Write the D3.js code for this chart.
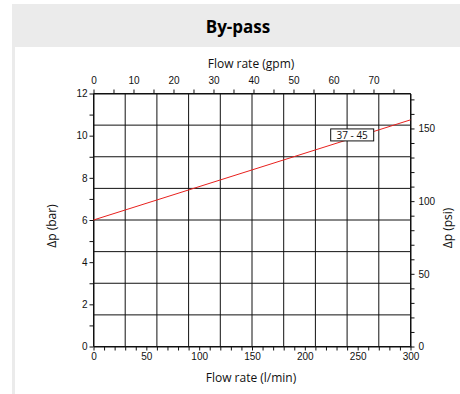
<!DOCTYPE html>
<html>
<head>
<meta charset="utf-8">
<script src="https://cdn.jsdelivr.net/npm/d3@7"></script>
<style>
  body { margin: 0; background: #fff; }
  svg { display: block; }
</style>
</head>
<body>
<script>
// chart data
const flowLmin = [0, 300];
const dpBar = [6, 10.75];
const curveLabel = "37 - 45";
const gridFlow = [0, 30, 60, 90, 120, 150, 180, 210, 240, 270, 300];
const gridBar = [0, 1.5, 3, 4.5, 6, 7.5, 9, 10.5, 12];
const barTicks = [0, 2, 4, 6, 8, 10, 12];
const psiTicks = [0, 50, 100, 150];
const gpmTicks = [0, 10, 20, 30, 40, 50, 60, 70];

const LMIN_PER_GPM = 3.78541;
const PSI_PER_BAR = 14.5038;

const width = 460, height = 394;
const svg = d3.select("body").append("svg").attr("width", width).attr("height", height);

// panel background
svg.append("rect").attr("x", 12).attr("y", 4).attr("width", 448).attr("height", 43).attr("fill", "#ebebeb");
svg.append("rect").attr("x", 12).attr("y", 47).attr("width", 3).attr("height", 347).attr("fill", "#ebebeb");
svg.append("text").attr("x", 238).attr("y", 33).attr("text-anchor", "middle")
    .style("font-family", "Open Sans").style("font-weight", "bold").style("font-size", "17px")
    .text("By-pass");

const x = d3.scaleLinear().domain([0, 300]).range([93.5, 410.5]);
const y = d3.scaleLinear().domain([0, 12]).range([346.5, 93.5]);
const xg = d3.scaleLinear().domain([0, 300 / LMIN_PER_GPM]).range(x.range());
const yp = d3.scaleLinear().domain([0, 12 * PSI_PER_BAR]).range(y.range());

const g = svg.append("g");

// grid
g.selectAll(".vg").data(gridFlow).enter().append("line")
    .attr("x1", d => x(d)).attr("x2", d => x(d)).attr("y1", y(0)).attr("y2", y(12))
    .attr("stroke", "#111").attr("stroke-width", 1);
g.selectAll(".hg").data(gridBar).enter().append("line")
    .attr("x1", x(0)).attr("x2", x(300)).attr("y1", d => y(d)).attr("y2", d => y(d))
    .attr("stroke", "#111").attr("stroke-width", 1);

function styleAxis(sel) {
    sel.selectAll("path").attr("stroke", "#111");
    sel.selectAll("line").attr("stroke", "#111");
    sel.selectAll("text").style("font-family", "Liberation Sans, Arial").style("font-size", "10px").attr("fill", "#111");
}

// bottom axis: l/min
const axBottom = g.append("g").attr("transform", `translate(0,${y(0)})`)
    .call(d3.axisBottom(x).tickValues(d3.range(0, 301, 10)).tickSize(4).tickSizeOuter(0)
        .tickFormat(d => d % 50 === 0 ? d : ""));
axBottom.call(styleAxis);
axBottom.selectAll("text").attr("dy", "0.75em").attr("y", 6);

// top axis: gpm
const axTop = g.append("g").attr("transform", `translate(0,${y(12)})`)
    .call(d3.axisTop(xg).tickValues(d3.range(0, 80, 5)).tickSize(4).tickSizeOuter(0)
        .tickFormat(d => gpmTicks.includes(d) ? d : ""));
axTop.call(styleAxis);
axTop.selectAll("text").attr("y", -10);

// left axis: bar
const axLeft = g.append("g").attr("transform", `translate(${x(0)},0)`)
    .call(d3.axisLeft(y).tickValues(d3.range(0, 13, 1)).tickSize(4).tickSizeOuter(0)
        .tickFormat(d => barTicks.includes(d) ? d : ""));
axLeft.call(styleAxis);
axLeft.selectAll("text").attr("x", -6);

// right axis: psi
const axRight = g.append("g").attr("transform", `translate(${x(300)},0)`)
    .call(d3.axisRight(yp).tickValues(d3.range(0, 171, 10)).tickSize(4).tickSizeOuter(0)
        .tickFormat(d => psiTicks.includes(d) ? d : ""));
axRight.call(styleAxis);
axRight.selectAll("text").attr("x", 8);

// axis titles
const titleFont = sel => sel.style("font-family", "Open Sans").style("font-size", "12px").attr("fill", "#111");
svg.append("text").attr("x", 251).attr("y", 68).attr("text-anchor", "middle").call(titleFont).text("Flow rate (gpm)");
svg.append("text").attr("x", 251).attr("y", 382).attr("text-anchor", "middle").call(titleFont).text("Flow rate (l/min)");
svg.append("text").attr("transform", "translate(56,226) rotate(-90)").attr("text-anchor", "middle").call(titleFont).text("Δp (bar)");
svg.append("text").attr("transform", "translate(452,228) rotate(-90)").attr("text-anchor", "middle").call(titleFont).text("Δp (psi)");

// curve
const line = d3.line().x((d, i) => x(flowLmin[i])).y(d => y(d));
g.append("path").datum(dpBar).attr("d", line).attr("fill", "none").attr("stroke", "#e8211e").attr("stroke-width", 1);

// curve label
const lx = x(224), ly = y(10.32);
g.append("rect").attr("x", lx + 0.5).attr("y", ly).attr("width", 43).attr("height", 12)
    .attr("fill", "#fff").attr("stroke", "#111").attr("stroke-width", 1);
g.append("text").attr("x", lx + 22).attr("y", ly + 10).attr("text-anchor", "middle")
    .style("font-family", "Open Sans").style("font-size", "10px").attr("fill", "#111").text(curveLabel);
</script>
</body>
</html>
